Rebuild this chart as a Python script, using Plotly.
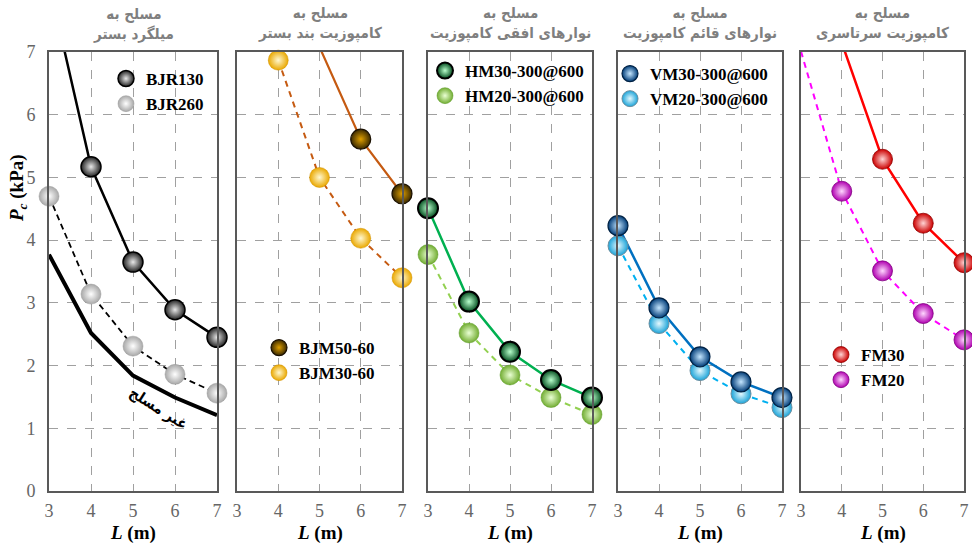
import plotly.graph_objects as go

# ---------------- data ----------------
tick_vals_x = [3, 4, 5, 6, 7]
tick_vals_y = [0, 1, 2, 3, 4, 5, 6, 7]

# panel 1
bjr130_L = [3, 4, 5, 6, 7]
bjr130_P = [8.10, 5.17, 3.65, 2.89, 2.45]
bjr260_L = [3, 4, 5, 6, 7]
bjr260_P = [4.70, 3.14, 2.31, 1.86, 1.56]
unrein_L = [3, 4, 5, 6, 7]
unrein_P = [3.77, 2.52, 1.84, 1.49, 1.21]
# panel 2
bjm50_L = [5, 6, 7]
bjm50_P = [7.08, 5.61, 4.74]
bjm30_L = [4, 5, 6, 7]
bjm30_P = [6.87, 5.00, 4.03, 3.40]
# panel 3
hm30_L = [3, 4, 5, 6, 7]
hm30_P = [4.51, 3.02, 2.22, 1.77, 1.49]
hm20_L = [3, 4, 5, 6, 7]
hm20_P = [3.77, 2.52, 1.85, 1.49, 1.22]
# panel 4
vm30_L = [3, 4, 5, 6, 7]
vm30_P = [4.23, 2.92, 2.14, 1.74, 1.49]
vm20_L = [3, 4, 5, 6, 7]
vm20_P = [3.91, 2.67, 1.92, 1.55, 1.33]
# panel 5
fm30_L = [4, 5, 6, 7]
fm30_P = [7.15, 5.29, 4.27, 3.64]
fm20_L = [3, 4, 5, 6, 7]
fm20_P = [7.01, 4.78, 3.51, 2.83, 2.41]

panel_titles = [
    "مسلح به<br>میلگرد بستر",
    "مسلح به<br>کامپوزیت بند بستر",
    "مسلح به<br>نوارهای افقی کامپوزیت",
    "مسلح به<br>نوارهای قائم کامپوزیت",
    "مسلح به<br>کامپوزیت سرتاسری",
]
unrein_label = "غیر مسلح"
x_title = "<i>L</i> (m)"
y_title = "<i>P</i><sub><i>c</i></sub> (kPa)"

# ---------------- layout geometry ----------------
W, H = 972, 545
YMAX = 7
panels_px = [(49, 217), (237, 402), (428, 592), (618, 782), (801, 964)]
plot_top, plot_bot = 52, 491

SERIF = "Liberation Serif"
ARAB = "DejaVu Sans Condensed"
GRID = "#a0a0a0"
FRAME = "#595959"

fig = go.Figure()


def ax(i):
    return ("x" if i == 1 else f"x{i}"), ("y" if i == 1 else f"y{i}")


def add_line(i, L, P, color, width, dash="solid"):
    xa, ya = ax(i)
    fig.add_trace(go.Scatter(x=L, y=P, mode="lines", xaxis=xa, yaxis=ya,
                             line=dict(color=color, width=width, dash=dash),
                             showlegend=False, hoverinfo="skip"))


def add_markers(i, L, P, name, color, grad, edge, legend, rank, edgew=1):
    xa, ya = ax(i)
    pts = [(l, p) for l, p in zip(L, P) if p <= YMAX + 0.05]
    fig.add_trace(go.Scatter(
        x=[a for a, _ in pts], y=[b for _, b in pts], mode="markers",
        xaxis=xa, yaxis=ya, name=name, legend=legend, legendrank=rank,
        cliponaxis=False,
        marker=dict(size=20, color=color,
                    gradient=dict(type="radial", color=grad),
                    line=dict(color=edge, width=edgew))))


# lines
add_line(1, unrein_L, unrein_P, "black", 4)
add_line(1, bjr260_L, bjr260_P, "black", 1.8, "6px,4px")
add_line(1, bjr130_L, bjr130_P, "black", 2.5)
add_line(2, bjm30_L, bjm30_P, "#c55a11", 2, "6px,5px")
add_line(2, bjm50_L, bjm50_P, "#c55a11", 2.2)
add_line(3, hm20_L, hm20_P, "#92d050", 2, "6px,5px")
add_line(3, hm30_L, hm30_P, "#00b050", 2.5)
add_line(4, vm20_L, vm20_P, "#00b0f0", 2, "6px,5px")
add_line(4, vm30_L, vm30_P, "#0070c0", 2.5)
add_line(5, fm20_L, fm20_P, "#ff00ff", 2, "6px,5px")
add_line(5, fm30_L, fm30_P, "#ff0000", 2.5)

# markers
add_markers(1, bjr260_L, bjr260_P, "BJR260", "#a8a8a8", "#ffffff", "#9a9a9a", "legend", 2, 0.5)
add_markers(1, bjr130_L, bjr130_P, "BJR130", "#222222", "#e8e8e8", "#000000", "legend", 1, 1.5)
add_markers(2, bjm30_L, bjm30_P, "BJM30-60", "#eaa800", "#fff8d0", "#d09000", "legend2", 2, 0.5)
add_markers(2, bjm50_L, bjm50_P, "BJM50-60", "#3a2900", "#e0a000", "#1a1000", "legend2", 1, 1.2)
add_markers(3, hm20_L, hm20_P, "HM20-300@600", "#72ad32", "#eaffd4", "#5c9a28", "legend3", 2, 0.5)
add_markers(3, hm30_L, hm30_P, "HM30-300@600", "#004a1c", "#b8ffcc", "#000000", "legend3", 1, 2)
add_markers(4, vm20_L, vm20_P, "VM20-300@600", "#1aa3d8", "#e4f9ff", "#6b8fa0", "legend4", 2, 1)
add_markers(4, vm30_L, vm30_P, "VM30-300@600", "#003c78", "#c4e6ff", "#002244", "legend4", 1, 1.2)
add_markers(5, fm20_L, fm20_P, "FM20", "#b000b0", "#ffd8ff", "#800080", "legend5", 2, 0.8)
add_markers(5, fm30_L, fm30_P, "FM30", "#cc0000", "#ffd4d4", "#900000", "legend5", 1, 0.8)

layout = dict(width=W, height=H, margin=dict(l=0, r=0, t=0, b=0),
              paper_bgcolor="white", plot_bgcolor="white", template="none",
              showlegend=True, font=dict(family=SERIF, color="black"))

for i, (x0, x1) in enumerate(panels_px, start=1):
    xk = "xaxis" if i == 1 else f"xaxis{i}"
    yk = "yaxis" if i == 1 else f"yaxis{i}"
    xa, ya = ax(i)
    layout[xk] = dict(domain=[x0 / W, x1 / W], range=[3, 7], anchor=ya,
                      tickvals=tick_vals_x, showgrid=True, gridcolor=GRID,
                      griddash="dash", gridwidth=1, zeroline=False,
                      showline=True, linecolor=FRAME, linewidth=2, mirror=True,
                      ticks="", ticklabelstandoff=2, automargin=False,
                      tickfont=dict(family=SERIF, size=18, color="#666666"))
    layout[yk] = dict(domain=[1 - plot_bot / H, 1 - plot_top / H], range=[0, 7],
                      anchor=xa, tickvals=tick_vals_y, showgrid=True,
                      gridcolor=GRID, griddash="dash", gridwidth=1,
                      zeroline=False, showline=True, linecolor=FRAME,
                      linewidth=2, mirror=True, ticks="", automargin=False,
                      showticklabels=(i == 1), ticklabelstandoff=8,
                      tickfont=dict(family=SERIF, size=18, color="#666666"))

legend_pos = {"legend": (106, 61), "legend2": (259, 330), "legend3": (425, 53),
              "legend4": (610, 56), "legend5": (821, 337)}
for k, (lx, ly) in legend_pos.items():
    layout[k] = dict(x=lx / W, y=1 - ly / H, xanchor="left", yanchor="top",
                     bgcolor="rgba(0,0,0,0)", tracegroupgap=0,
                     font=dict(family=SERIF, size=17, color="black", weight="bold"))

annotations = []
for (x0, x1), t in zip(panels_px, panel_titles):
    cx = (x0 + x1) / 2 / W
    annotations.append(dict(text=t, x=cx, y=1 - 45 / H, xref="paper", yref="paper",
                            xanchor="center", yanchor="bottom", showarrow=False,
                            font=dict(family=ARAB, size=15, color="#7f7f7f", weight="bold")))
    annotations.append(dict(text=x_title, x=cx, y=1 - 533 / H, xref="paper", yref="paper",
                            xanchor="center", yanchor="middle", showarrow=False,
                            font=dict(family=SERIF, size=19, color="black", weight="bold")))
annotations.append(dict(text=y_title, x=18 / W, y=1 - 188 / H, xref="paper", yref="paper",
                        textangle=-90, xanchor="center", yanchor="middle", showarrow=False,
                        font=dict(family=SERIF, size=19, color="black", weight="bold")))
annotations.append(dict(text=unrein_label, x=158 / W, y=1 - 408 / H, xref="paper", yref="paper",
                        textangle=32, xanchor="center", yanchor="middle", showarrow=False,
                        font=dict(family=ARAB, size=15, color="black", weight="bold")))
layout["annotations"] = annotations

fig.update_layout(**layout)
fig.write_html("out.html")
